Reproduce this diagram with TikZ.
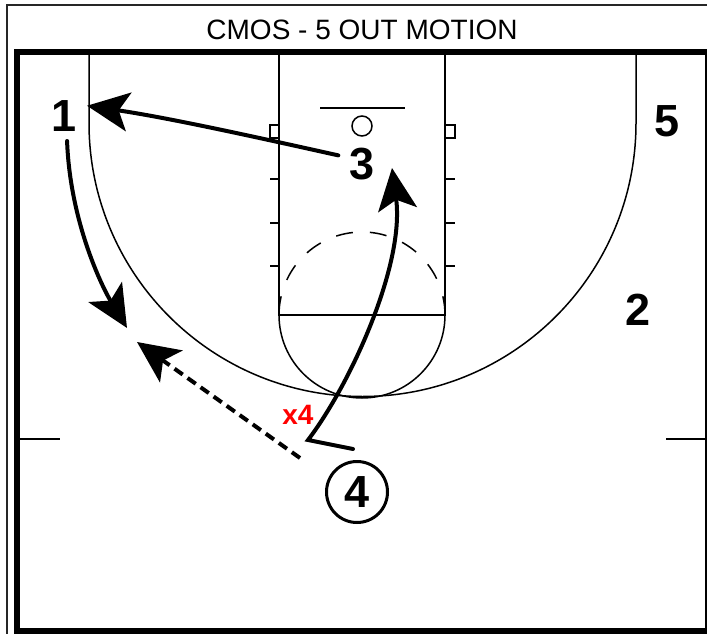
\documentclass[tikz,border=0pt]{standalone}
\usepackage{fontspec}
\setmainfont{Liberation Sans}
\usetikzlibrary{positioning, arrows.meta}

\begin{document}
\begin{tikzpicture}[
  x=1pt, y=-1pt,
  % Court styles
  courtline/.style={draw, line width=1.5pt},
  courtborder/.style={draw, line width=5.5pt},
  % Player styles
  player/.style={circle, minimum size=50pt, inner sep=0pt, font=\fontsize{45}{45}\selectfont\bfseries},
  % Movement styles
  cut/.style={draw, line width=4pt, line cap=round, -{Stealth[length=42pt, width=39pt, inset=10pt]}},
  pass/.style={cut, line cap=butt, dash pattern=on 10pt off 6pt}
]
  \useasboundingbox (0,0) rectangle (707,634);

  % ==========================================
  % FRAME AND TITLE
  % ==========================================
  \draw[line width=1.5pt, black!85] (7,5) rectangle (730,660);
  \node[font=\fontsize{28}{28}\selectfont] (title) at (362,30) {CMOS - 5 OUT MOTION};
  \draw[courtborder] (17,52) rectangle (708,631);

  % ==========================================
  % HALF COURT
  % ==========================================
  % Lane and free throw circle
  \draw[courtline] (279,52) rectangle (445,315);
  \draw[courtline] (445,315) arc[start angle=0, end angle=180, radius=83];
  \draw[courtline] (279,315) arc[start angle=180, end angle=193, radius=83];
  \draw[courtline] (445,315) arc[start angle=0, end angle=-13, radius=83];
  \draw[courtline, dash pattern=on 17pt off 17pt] (362,315) ++(205:83) arc[start angle=205, end angle=335, radius=83];

  % Blocks and hash marks
  \draw[courtline] (270,125) rectangle (279,138);
  \draw[courtline] (445,125) rectangle (455,138);
  \foreach \y in {179,223,266} {
    \draw[courtline] (270,\y) -- (279,\y);
    \draw[courtline] (445,\y) -- (455,\y);
  }

  % Backboard and rim
  \draw[line width=2pt] (320,108) -- (405,108);
  \draw[courtline] (362,126) circle[radius=10];

  % Three point line
  \draw[courtline] (89,52) -- (89,123) arc[start angle=180, end angle=0, radius=273.5] -- (636,52);

  % Side marks
  \draw[courtline] (17,439) -- (60,439);
  \draw[courtline] (666,439) -- (708,439);

  % ==========================================
  % PLAYERS
  % ==========================================
  \node[player] (p1) at (64,116) {1};
  \node[player] (p2) at (638,310) {2};
  \node[player] (p3) at (362,164) {3};
  \node[player] (p5) at (667,121) {5};
  \node[player, draw, line width=3pt, minimum size=61pt] (p4) at (357,492) {4};
  \node[text=red, font=\fontsize{28}{28}\selectfont\bfseries] (x4) at (298,415) {x4};

  % ==========================================
  % MOVEMENTS
  % ==========================================
  \coordinate[above left=43pt and 4pt of p4.center] (cut4start);
  \coordinate (plant4) at (308,440);
  \coordinate (cut4end) at (392,168);
  \coordinate[above left=34pt and 57pt of p4.center] (pass4start);
  \coordinate (pass4end) at (137,342);
  \coordinate (cut1end) at (127,328);

  % 3 replaces 1
  \draw[cut] (p3.160) .. controls (260,138) and (170,118) .. (p1.24);
  % 1 drops to the wing
  \draw[cut] (p1.277) .. controls (70,220) and (101,285) .. (cut1end);
  % 4 passes and cuts
  \draw[pass] (pass4start) -- (pass4end);
  \draw[cut] (cut4start) -- (plant4) .. controls (350,385) and (405,265) .. (cut4end);

\end{tikzpicture}
\end{document}
